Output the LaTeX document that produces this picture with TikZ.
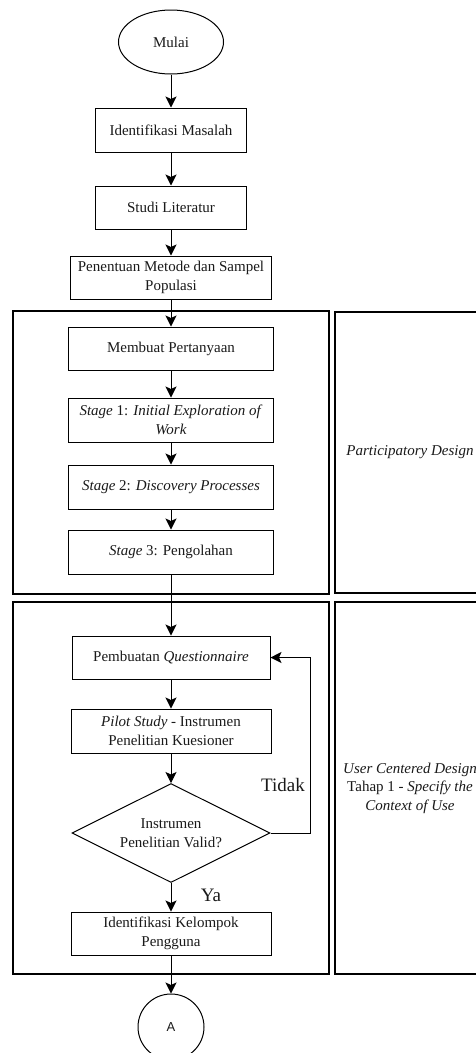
\documentclass[tikz,border=0pt]{standalone}
\usepackage{fontspec}
\setmainfont{Liberation Serif}
\newfontfamily\arialfont{Liberation Sans}
\usepackage{tikz}
\usetikzlibrary{arrows.meta,positioning,shapes.geometric}
\definecolor{flowink}{HTML}{1A1A1A}
\definecolor{flowline}{HTML}{000000}

\begin{document}
\begin{tikzpicture}[>={Stealth[length=11pt,width=11pt,inset=2.5pt]},line join=miter,
  font=\fontsize{15}{18.5}\selectfont,text=flowink,
  stepbox/.style={draw=flowline,line width=1pt,fill=white,align=center,inner sep=2pt,minimum height=43pt},
  decision/.style={diamond,draw=flowline,line width=1pt,fill=white,align=center,inner sep=1pt,shape aspect=2,minimum width=198pt,minimum height=99pt},
  frame/.style={draw=flowline,line width=1.4pt},
  flow/.style={->,draw=flowline,line width=1pt},
  answer/.style={font=\fontsize{19}{22}\selectfont,inner sep=0pt}]
\begin{scope}[x=1pt,y=-1pt]
  \path[use as bounding box] (0,0) rectangle (476,1053);
  \clip (0,0) rectangle (476,1053);
  \fill[white] (0,0) rectangle (476,1053);
  % kerangka tahap
  \draw[frame] (13,311) rectangle (329,594);
  \draw[frame] (335,312) rectangle (495,593);
  \draw[frame] (13,602) rectangle (329,974);
  \draw[frame] (335,602) rectangle (495,974);
  \node (pd) at (410,452) {\textit{Participatory Design}};
  \node[align=center] (ucd) at (410,788) {\textit{User Centered Design}\\Tahap 1 - \textit{Specify the}\\\textit{Context of Use}};
  % alur utama
  \node[ellipse,draw=flowline,line width=1pt,minimum width=105pt,minimum height=64pt] (mulai) at (171,42) {Mulai};
  \node[stepbox,minimum width=151pt,minimum height=44pt] (masalah) at (171,130) {Identifikasi Masalah};
  \node[stepbox,minimum width=151pt] (literatur) at (171,207.5) {Studi Literatur};
  \node[stepbox,minimum width=201pt] (metode) at (171,277.5) {Penentuan Metode dan Sampel\\Populasi};
  \node[stepbox,minimum width=205pt] (pertanyaan) at (171,348.5) {Membuat Pertanyaan};
  \node[stepbox,minimum width=205pt,minimum height=44pt] (stagea) at (171,420) {\textit{Stage} 1: \textit{Initial Exploration of}\\\textit{Work}};
  \node[stepbox,minimum width=205pt,minimum height=44pt] (stageb) at (171,487) {\textit{Stage} 2: \textit{Discovery Processes}};
  \node[stepbox,minimum width=205pt,minimum height=44pt] (stagec) at (171,552) {\textit{Stage} 3: Pengolahan};
  \node[stepbox,minimum width=198pt] (kuesioner) at (171,657.5) {Pembuatan \textit{Questionnaire}};
  \node[stepbox,minimum width=200pt,minimum height=44pt] (pilot) at (171,731) {\textit{Pilot Study} - Instrumen\\Penelitian Kuesioner};
  \node[decision] (valid) at (171,833) {Instrumen\\Penelitian Valid?};
  \node[stepbox,minimum width=200pt] (pengguna) at (171,933.5) {Identifikasi Kelompok\\Pengguna};
  \node[circle,draw=flowline,line width=1pt,minimum size=66pt,font=\arialfont\fontsize{13}{15}\selectfont] (konektor) at (171,1027) {A};
  \draw[flow] (mulai) -- (masalah);
  \draw[flow] (masalah) -- (literatur);
  \draw[flow] (literatur) -- (metode);
  \draw[flow] (metode) -- (pertanyaan);
  \draw[flow] (pertanyaan) -- (stagea);
  \draw[flow] (stagea) -- (stageb);
  \draw[flow] (stageb) -- (stagec);
  \draw[flow] (stagec) -- (kuesioner);
  \draw[flow] (kuesioner) -- (pilot);
  \draw[flow] (pilot) -- (valid);
  \draw[flow] (valid) -- (pengguna);
  \draw[flow] (pengguna) -- (konektor);
  \draw[flow] (valid.east) -- ++(40,0) |- (kuesioner.east);
  \node[answer] (tidak) at (283,785) {Tidak};
  \node[answer] (ya) at (211,895) {Ya};
\end{scope}
\end{tikzpicture}
\end{document}
